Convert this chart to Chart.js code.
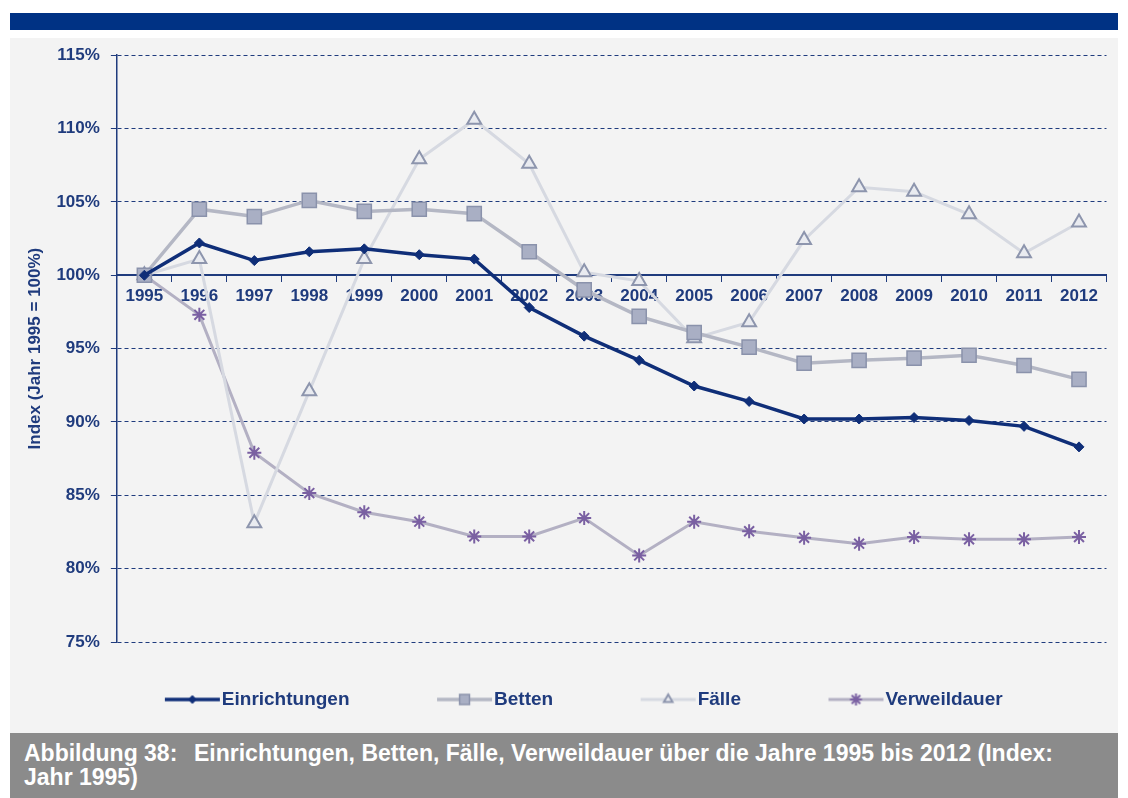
<!DOCTYPE html>
<html>
<head>
<meta charset="utf-8">
<script src="https://cdn.jsdelivr.net/npm/chart.js@4"></script>
<style>
  html, body { margin: 0; padding: 0; background: #ffffff; }
  body { width: 1128px; height: 798px; position: relative; overflow: hidden; font-family: "Liberation Sans", Arial, sans-serif; }
  #topbar { position: absolute; left: 10px; top: 13px; width: 1108px; height: 17px; background: #003284; }
  #panel { position: absolute; left: 10px; top: 38px; width: 1108px; height: 695px; background: #f3f3f3; }
  #wrap { position: absolute; left: 10px; top: 34px; width: 1108px; height: 699px; }
  #caption { position: absolute; left: 10px; top: 733px; width: 1108px; height: 65px; background: #8b8b8b;
    color: #ffffff; font-weight: bold; font-size: 23px; line-height: 24px; box-sizing: border-box; padding: 8px 0 0 14px; white-space: nowrap; }
  #caption .num { display: inline-block; width: 170px; }
</style>
</head>
<body>
<div id="topbar"></div>
<div id="panel"></div>
<div id="wrap"><canvas id="chart"></canvas></div>
<div id="caption"><span class="num">Abbildung 38:</span>Einrichtungen, Betten, Fälle, Verweildauer über die Jahre 1995 bis 2012 (Index:<br>Jahr 1995)</div>
<script>
// index values, 1995 = 100
const years = ['1995', '1996', '1997', '1998', '1999', '2000', '2001', '2002', '2003',
               '2004', '2005', '2006', '2007', '2008', '2009', '2010', '2011', '2012'];
const einrichtungen = [100, 102.2, 101.0, 101.6, 101.8, 101.4, 101.1, 97.8, 95.85,
                       94.2, 92.45, 91.4, 90.2, 90.2, 90.3, 90.1, 89.7, 88.3];
const betten = [100, 104.5, 104.0, 105.1, 104.35, 104.5, 104.2, 101.6, 99.0,
                97.2, 96.1, 95.1, 94.0, 94.2, 94.35, 94.55, 93.85, 92.9];
const faelle = [100, 101.1, 83.1, 92.1, 101.1, 107.9, 110.6, 107.6, 100.2,
                99.6, 95.7, 96.8, 102.4, 106.0, 105.7, 104.15, 101.5, 103.6];
const verweildauer = [100, 97.3, 87.9, 85.15, 83.85, 83.2, 82.2, 82.2, 83.45,
                      80.9, 83.2, 82.55, 82.1, 81.7, 82.15, 82.0, 82.0, 82.15];
const seriesNames = ['Einrichtungen', 'Betten', 'Fälle', 'Verweildauer'];
const yTicks = [75, 80, 85, 90, 95, 100, 105, 110, 115];

const NAVY = '#1f3b7d';
const FONT = '"Liberation Sans", Arial, sans-serif';

const STYLES = [
    { line: '#0f2e78', width: 3.5, point: 'rectRot', radius: 5, fill: '#0f2e78', border: '#0f2e78', bw: 1, legendRadius: 4 },
    { line: '#b4b7c4', width: 3.5, point: 'rect', radius: 10, fill: '#a9afc4', border: '#8a92ab', bw: 1.5, legendRadius: 7 },
    { line: '#d6d9e1', width: 3, point: 'triangle', radius: 8, fill: '#e9ebf0', border: '#8d95ad', bw: 2, legendRadius: 5 },
    { line: '#b3b0c3', width: 3, point: 'star', radius: 7, fill: '#7a60a2', border: '#7a60a2', bw: 2, legendRadius: 6 },
];

const LEGEND_FONT = 19;
const LEGEND_BOX = 87;

// legend symbol: short line with the marker in the middle
function legendIcon(st) {
    const w = LEGEND_BOX + LEGEND_FONT;
    const h = 20;
    const c = document.createElement('canvas');
    c.width = w; c.height = h;
    const g = c.getContext('2d');
    const x1 = w - 2 - 55, x2 = w - 2, cy = h / 2;
    g.strokeStyle = st.line;
    g.lineWidth = st.width;
    g.beginPath(); g.moveTo(x1, cy); g.lineTo(x2, cy); g.stroke();
    g.fillStyle = st.fill;
    g.strokeStyle = st.border;
    g.lineWidth = st.bw;
    Chart.helpers.drawPoint(g, { pointStyle: st.point, radius: st.legendRadius, rotation: 0, borderWidth: st.bw }, (x1 + x2) / 2, cy);
    return c;
}

const values = [einrichtungen, betten, faelle, verweildauer];
const datasets = values.map((data, i) => {
    const st = STYLES[i];
    return {
        label: seriesNames[i],
        data,
        borderColor: st.line,
        borderWidth: st.width,
        backgroundColor: st.fill,
        pointStyle: st.point,
        pointRadius: st.radius,
        pointBackgroundColor: st.fill,
        pointBorderColor: st.border,
        pointBorderWidth: st.bw,
        tension: 0,
        fill: false,
        legendIcon: legendIcon(st),
    };
});

new Chart(document.getElementById('chart'), {
    type: 'line',
    data: { labels: years, datasets },
    options: {
        responsive: true,
        maintainAspectRatio: false,
        animation: false,
        layout: { padding: { top: 8, right: 10, left: 10, bottom: 14 } },
        plugins: {
            tooltip: { enabled: false },
            legend: {
                position: 'bottom',
                labels: {
                    usePointStyle: true,
                    pointStyleWidth: LEGEND_BOX,
                    padding: 48,
                    color: NAVY,
                    font: { family: FONT, size: LEGEND_FONT, weight: 'bold' },
                    generateLabels: (chart) => chart.data.datasets.map((ds, i) => ({
                        text: ds.label,
                        pointStyle: ds.legendIcon,
                        fillStyle: 'transparent',
                        strokeStyle: 'transparent',
                        lineWidth: 0,
                        fontColor: NAVY,
                        datasetIndex: i,
                        hidden: false,
                    })),
                },
            },
        },
        scales: {
            x: {
                type: 'category',
                position: { y: 100 },
                offset: true,
                grid: { display: true, drawOnChartArea: false, drawTicks: true, tickLength: 6, offset: true, color: NAVY, lineWidth: 1 },
                border: { color: NAVY, width: 2 },
                ticks: {
                    color: NAVY,
                    font: { family: FONT, size: 17, weight: 'bold' },
                    padding: 5,
                    maxRotation: 0,
                    autoSkip: false,
                },
            },
            y: {
                min: 75,
                max: 115,
                afterBuildTicks: (axis) => { axis.ticks = yTicks.map(v => ({ value: v })); },
                grid: { color: NAVY, lineWidth: 1, tickLength: 6 },
                border: { color: NAVY, width: 1.5, dash: [4, 3] },
                ticks: {
                    color: NAVY,
                    font: { family: FONT, size: 17, weight: 'bold' },
                    padding: 11,
                    callback: (v) => v + '%',
                },
                title: {
                    display: true,
                    text: 'Index (Jahr 1995 = 100%)',
                    color: NAVY,
                    font: { family: FONT, size: 17, weight: 'bold' },
                    padding: { top: 5, bottom: 0 },
                },
            },
        },
    },
});
</script>
</body>
</html>
